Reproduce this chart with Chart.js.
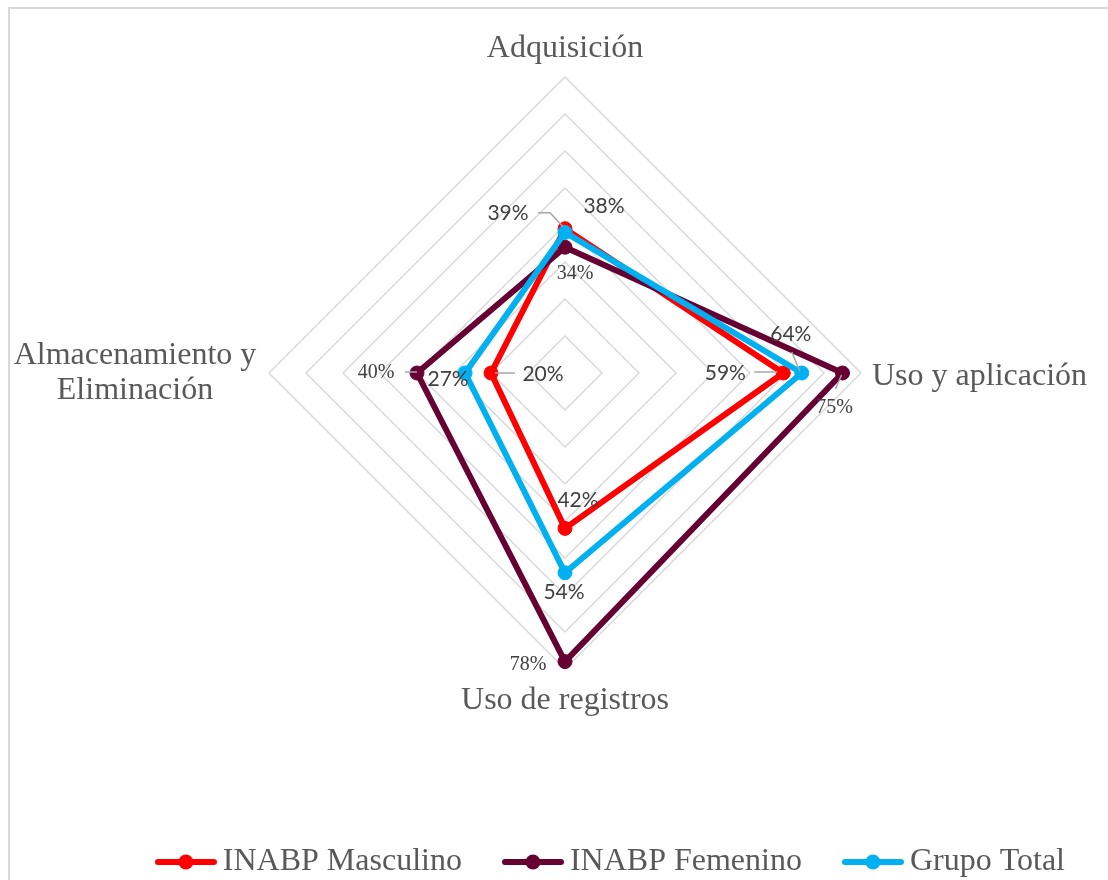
<!DOCTYPE html>
<html>
<head>
<meta charset="utf-8">
<script src="https://cdn.jsdelivr.net/npm/chart.js@4.4.1/dist/chart.umd.min.js"></script>
<style>
  html, body { margin: 0; padding: 0; background: #ffffff; overflow: hidden; }
  #wrap { position: relative; width: 1108px; height: 880px; overflow: hidden; background: #ffffff; }
  #frame { position: absolute; left: 8px; top: 7px; width: 1130px; height: 920px;
           border: 2px solid #d9d9d9; box-sizing: border-box; }
  #c { position: absolute; left: 0; top: 0; }
</style>
</head>
<body>
<div id="wrap">
  <div id="frame"></div>
  <canvas id="c" width="1108" height="888"></canvas>
</div>
<script>
// Competence areas (radar axes), clockwise from the top
const categories = [
  ['Adquisición'],
  ['Uso y aplicación'],
  ['Uso de registros'],
  ['Almacenamiento y', 'Eliminación']
];

// Series values, in percent
const seriesNames = ['INABP Masculino', 'INABP Femenino', 'Grupo Total'];
const masculino = [39, 59, 42, 20];
const femenino  = [34, 75, 78, 40];
const total     = [38, 64, 54, 27];

// Radial scale (concentric rings every 10 %, up to 80 %)
const scaleMin = 0;
const scaleMax = 80;
const scaleStep = 10;

// ---- styling ----
const colors = ['#FF0000', '#660033', '#00B0F0'];
const GRAY_TEXT = '#595959';
const LABEL_TEXT = '#404040';
const SERIF = '"Liberation Serif", "Times New Roman", serif';
const SANS = 'Lato, "Open Sans", sans-serif';

// Where each value label sits relative to its point, and optional leader lines
const valueLabelStyle = [
  { font: '21px ' + SANS,
    offsets: [[-57, -15], [-58, 0], [13, -28], [52, 1]],
    leaders: [[[-27, -16], [-15, -16], [-2, -2]], [[-29, -1], [-6, -1]], null, [[4, 0], [24, 0]]] },
  { font: '20px ' + SERIF,
    offsets: [[10, 27], [-8, 35], [-37, 3], [-41, 0]],
    leaders: [null, [[-7, 16], [-1, 2]], null, [[-12, -1], [0, -1]]] },
  { font: '21px ' + SANS,
    offsets: [[39, -26], [-11, -39], [-1, 19], [-17, 6]],
    leaders: [null, [[-10, -21], [-2, -2]], null, null] }
];

// Legend marker: thick line with a dot in the middle
function legendIcon(color) {
  const c = document.createElement('canvas');
  c.width = 62; c.height = 16;
  const g = c.getContext('2d');
  g.strokeStyle = color; g.lineWidth = 6; g.lineCap = 'round';
  g.beginPath(); g.moveTo(3, 8); g.lineTo(59, 8); g.stroke();
  g.fillStyle = color;
  g.beginPath(); g.arc(31, 8, 7.5, 0, Math.PI * 2); g.fill();
  return c;
}
const legendIcons = colors.map(legendIcon);

// Category names around the radar
const axisLabelPlugin = {
  id: 'axisLabels',
  afterDraw(chart) {
    const scale = chart.scales.r;
    const ctx = chart.ctx;
    ctx.save();
    ctx.font = '32px ' + SERIF;
    ctx.fillStyle = GRAY_TEXT;
    ctx.textBaseline = 'alphabetic';
    chart.data.labels.forEach((lines, i) => {
      const p = scale.getPointPositionForValue(i, scaleMax);
      if (i === 0) {
        ctx.textAlign = 'center';
        ctx.fillText(lines[0], p.x, p.y - 20);
      } else if (i === 1) {
        ctx.textAlign = 'left';
        ctx.fillText(lines[0], p.x + 11, p.y + 12);
      } else if (i === 2) {
        ctx.textAlign = 'center';
        ctx.fillText(lines[0], p.x, p.y + 40);
      } else {
        ctx.textAlign = 'center';
        const cx = p.x - 134;
        lines.forEach((t, k) => ctx.fillText(t, cx, p.y - 9 + k * 35));
      }
    });
    ctx.restore();
  }
};

// Percent labels next to each point
const valueLabelPlugin = {
  id: 'valueLabels',
  afterDatasetsDraw(chart) {
    const ctx = chart.ctx;
    ctx.save();
    chart.data.datasets.forEach((ds, di) => {
      const meta = chart.getDatasetMeta(di);
      const st = valueLabelStyle[di];
      meta.data.forEach((pt, i) => {
        const lead = st.leaders[i];
        if (lead) {
          ctx.strokeStyle = '#a6a6a6';
          ctx.lineWidth = 1.5;
          ctx.beginPath();
          lead.forEach(([dx, dy], k) => {
            if (k === 0) ctx.moveTo(pt.x + dx, pt.y + dy);
            else ctx.lineTo(pt.x + dx, pt.y + dy);
          });
          ctx.stroke();
        }
        const [ox, oy] = st.offsets[i];
        ctx.font = st.font;
        ctx.fillStyle = LABEL_TEXT;
        ctx.textAlign = 'center';
        ctx.textBaseline = 'middle';
        ctx.fillText(ds.data[i] + '%', pt.x + ox, pt.y + oy);
      });
    });
    ctx.restore();
  }
};

function makeDataset(name, values, color, order) {
  return {
    label: name,
    data: values,
    borderColor: color,
    backgroundColor: color,
    pointBackgroundColor: color,
    pointBorderColor: color,
    borderWidth: 6,
    borderJoinStyle: 'round',
    pointRadius: 7,
    pointBorderWidth: 1,
    pointHoverRadius: 7,
    fill: false,
    order: order
  };
}

new Chart(document.getElementById('c'), {
  type: 'radar',
  data: {
    labels: categories,
    datasets: [
      makeDataset(seriesNames[0], masculino, colors[0], 3),
      makeDataset(seriesNames[1], femenino, colors[1], 2),
      makeDataset(seriesNames[2], total, colors[2], 1)
    ]
  },
  options: {
    responsive: false,
    devicePixelRatio: 1,
    animation: false,
    layout: { padding: { left: 22, right: -7, top: 77, bottom: 0 } },
    scales: {
      r: {
        min: scaleMin,
        max: scaleMax,
        ticks: { display: false, stepSize: scaleStep },
        grid: { color: '#d9d9d9', lineWidth: 1.5, circular: false },
        angleLines: { display: false },
        pointLabels: { display: false }
      }
    },
    plugins: {
      tooltip: { enabled: false },
      legend: {
        position: 'bottom',
        align: 'end',
        title: { display: true, text: ' ', font: { size: 10, lineHeight: 1 }, padding: { top: 117, bottom: 0 } },
        labels: {
          usePointStyle: true,
          pointStyleWidth: 42,
          padding: 50,
          color: GRAY_TEXT,
          font: { family: 'Liberation Serif', size: 32 },
          generateLabels(chart) {
            const items = Chart.defaults.plugins.legend.labels.generateLabels(chart);
            items.forEach(it => { it.pointStyle = legendIcons[it.datasetIndex]; });
            return items;
          },
          sort: (a, b) => a.datasetIndex - b.datasetIndex
        }
      }
    }
  },
  plugins: [axisLabelPlugin, valueLabelPlugin]
});
</script>
</body>
</html>
